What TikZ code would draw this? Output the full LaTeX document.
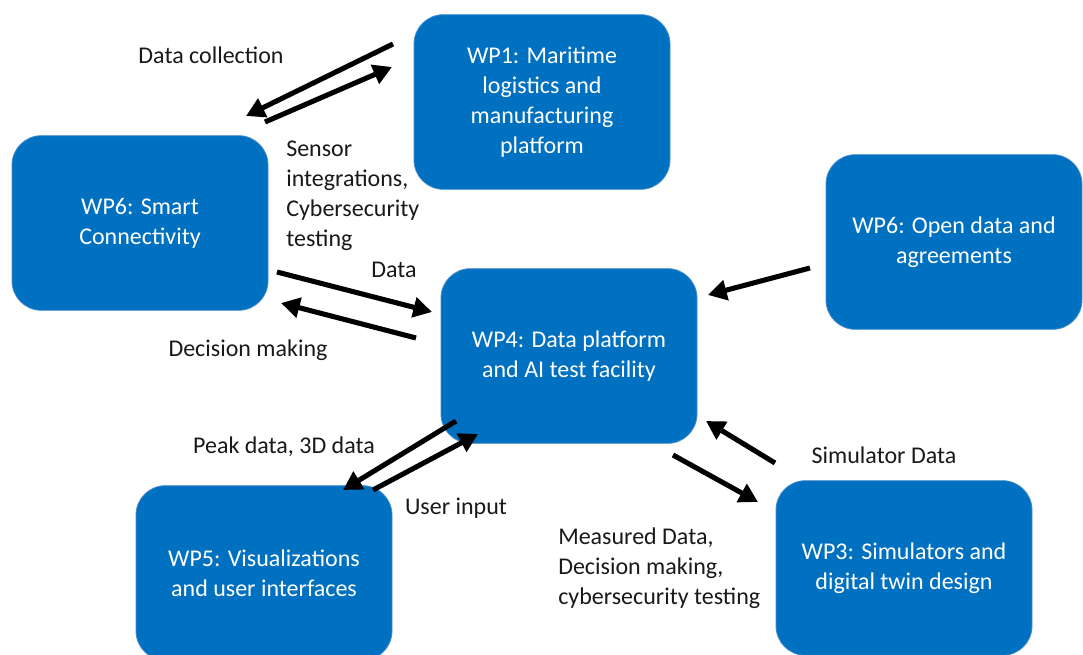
\documentclass[tikz,border=0pt]{standalone}
\usepackage{fontspec}
\setmainfont{Carlito}
\usetikzlibrary{arrows.meta}
\definecolor{wpblue}{RGB}{0,112,192}
\definecolor{wpedge}{RGB}{70,140,205}
\definecolor{labelc}{RGB}{25,25,25}
\tikzset{
  wpbox/.style={rectangle, rounded corners=22pt, fill=wpblue, draw=wpedge, line width=0.6pt,
    minimum width=192pt, minimum height=131pt, text=white, align=center,
    font=\fontsize{18}{22.5}\selectfont, inner sep=0pt},
  lbl/.style={text=labelc, font=\fontsize{18}{22.5}\selectfont, inner sep=0pt},
  flow/.style={line width=3.8pt, -{Triangle[length=14pt,width=15pt]}, black},
}
\begin{document}
\begin{tikzpicture}[x=0.75pt,y=-0.75pt]
\useasboundingbox (0,0) rectangle (1083,655);
\begin{scope}
\clip (0,0) rectangle (1083,655);
\node[wpbox] (wp1) at (542,102) {WP1: Maritime\\logistics and\\manufacturing\\platform};
\node[wpbox] (wp6s) at (140,223) {WP6: Smart\\Connectivity};
\node[wpbox] (wp6o) at (954,242) {WP6: Open data and\\agreements};
\node[wpbox] (wp4) at (569,356) {WP4: Data platform\\and AI test facility};
\node[wpbox] (wp5) at (264,573) {WP5: Visualizations\\and user interfaces};
\node[wpbox] (wp3) at (904,568) {WP3: Simulators and\\digital twin design};
\end{scope}

% labels
\node[lbl] (l1) at (211,55) {Data collection};
\node[lbl, anchor=west, align=left] (l2) at (286,196) {Sensor\\integrations,\\Cybersecurity\\testing};
\node[lbl] (l3) at (394,270) {Data};
\node[lbl] (l4) at (248,350) {Decision making};
\node[lbl] (l5) at (284,447) {Peak data, 3D data};
\node[lbl] (l6) at (456,508) {User input};
\node[lbl, anchor=west, align=left] (l7) at (558,568) {Measured Data,\\Decision making,\\cybersecurity testing};
\node[lbl] (l8) at (884,455) {Simulator Data};

% arrow endpoints
\coordinate (a1s) at (393,44);  \coordinate (a1e) at (246,116);
\coordinate (a2s) at (265,122); \coordinate (a2e) at (392,67);
\coordinate (a3s) at (277,272); \coordinate (a3e) at (432,312);
\coordinate (a4s) at (416,338); \coordinate (a4e) at (281,303);
\coordinate (a5s) at (810,268); \coordinate (a5e) at (708,295);
\coordinate (a6s) at (456,421); \coordinate (a6e) at (343,490);
\coordinate (a7s) at (373,490); \coordinate (a7e) at (478,434);
\coordinate (a8s) at (673,455); \coordinate (a8e) at (758,502);
\coordinate (a9s) at (775,463); \coordinate (a9e) at (706,421);

\draw[flow] (a1s) -- (a1e);
\draw[flow] (a2s) -- (a2e);
\draw[flow] (a3s) -- (a3e);
\draw[flow] (a4s) -- (a4e);
\draw[flow] (a5s) -- (a5e);
\draw[flow] (a6s) -- (a6e);
\draw[flow] (a7s) -- (a7e);
\draw[flow] (a8s) -- (a8e);
\draw[flow] (a9s) -- (a9e);
\end{tikzpicture}
\end{document}
